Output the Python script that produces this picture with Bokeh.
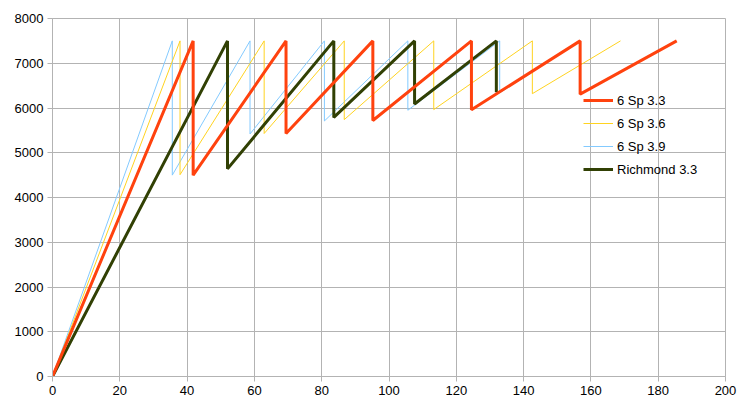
from bokeh.plotting import figure
from bokeh.models import Range1d, FixedTicker, Legend, LegendItem
from bokeh.embed import file_html
from bokeh.resources import INLINE

# Speed (x) vs engine rpm (y), sawtooth per gear
sp33_x = [0, 41.8, 41.8, 69.4, 69.4, 95.2, 95.2, 124.5, 124.5, 156.8, 156.8, 185.5]
sp33_y = [0, 7500, 4500, 7500, 5430, 7500, 5720, 7500, 5960, 7500, 6310, 7500]

sp36_x = [0, 37.9, 37.9, 62.9, 62.9, 86.7, 86.7, 113.3, 113.3, 142.6, 142.6, 168.8]
sp36_y = [0, 7500, 4510, 7500, 5430, 7500, 5740, 7500, 5965, 7500, 6320, 7500]

sp39_x = [0, 35.6, 35.6, 58.7, 58.7, 80.8, 80.8, 105.6, 105.6, 132.9, 132.9, 157.0]
sp39_y = [0, 7500, 4500, 7500, 5420, 7500, 5710, 7500, 5950, 7500, 6340, 7500]

rich_x = [0, 52.0, 52.0, 83.6, 83.6, 107.6, 107.6, 131.9, 131.9]
rich_y = [0, 7500, 4640, 7500, 5790, 7500, 6090, 7500, 6350]

series_names = ["6 Sp 3.3", "6 Sp 3.6", "6 Sp 3.9", "Richmond 3.3"]
x_ticks = list(range(0, 201, 20))
y_ticks = list(range(0, 8001, 1000))

GRID = "#b3b3b3"
FONT = "Liberation Sans"

p = figure(width=743, height=412, output_backend="svg", toolbar_location=None,
           x_range=Range1d(0, 200), y_range=Range1d(0, 8000),
           min_border_left=52, min_border_right=18, min_border_top=18, min_border_bottom=36)
p.background_fill_color = "white"
p.border_fill_color = "white"
p.outline_line_color = GRID
p.outline_line_width = 1

for ax in (p.xaxis[0], p.yaxis[0]):
    ax.axis_line_color = GRID
    ax.major_tick_line_color = GRID
    ax.major_tick_out = 5
    ax.major_tick_in = 0
    ax.minor_tick_line_color = None
    ax.major_label_text_font = FONT
    ax.major_label_text_font_size = "13px"
    ax.major_label_text_color = "#000000"
    ax.major_label_standoff = 4
p.xaxis.ticker = FixedTicker(ticks=x_ticks)
p.yaxis.ticker = FixedTicker(ticks=y_ticks)

p.xgrid.ticker = FixedTicker(ticks=x_ticks)
p.ygrid.ticker = FixedTicker(ticks=y_ticks)
p.xgrid.grid_line_color = GRID
p.ygrid.grid_line_color = GRID

r39 = p.line(sp39_x, sp39_y, line_color="#83caff", line_width=1)
r36 = p.line(sp36_x, sp36_y, line_color="#ffd320", line_width=1)
rr = p.line(rich_x, rich_y, line_color="#314004", line_width=3)
r33 = p.line(sp33_x, sp33_y, line_color="#ff420e", line_width=3)

legend = Legend(items=[LegendItem(label=series_names[0], renderers=[r33]),
                       LegendItem(label=series_names[1], renderers=[r36]),
                       LegendItem(label=series_names[2], renderers=[r39]),
                       LegendItem(label=series_names[3], renderers=[rr])],
                location=(531, 197))
legend.padding = 0
legend.margin = 0
legend.spacing = 3
legend.glyph_width = 30
legend.glyph_height = 20
legend.label_height = 20
legend.label_standoff = 4
legend.label_text_font = FONT
legend.label_text_font_size = "13px"
legend.label_text_color = "#000000"
legend.border_line_alpha = 0
legend.background_fill_alpha = 0
p.add_layout(legend, "center")

open("out.html", "w").write(file_html(p, INLINE))
